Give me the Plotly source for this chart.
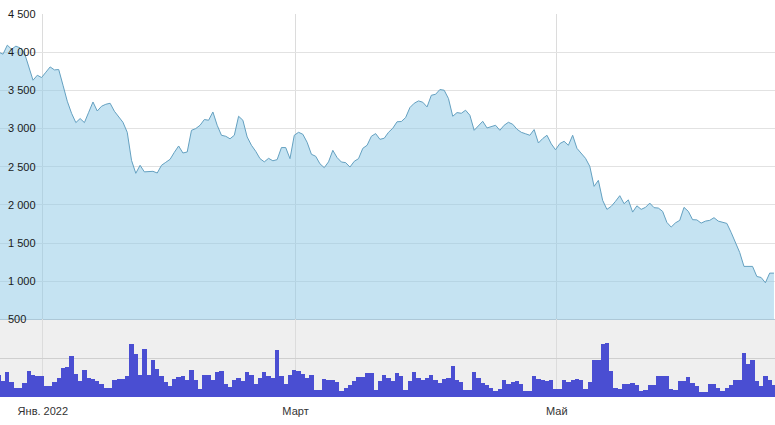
import pandas as pd
import plotly.graph_objects as go

# ---- data (daily, 21 Dec 2021 .. 20 Jun 2022) ----
start_date = "2021-12-21 17:00"
price = [
    4000, 3974, 4092, 4039, 4079, 4056, 3990, 3816, 3633, 3698, 3668,   # Dec 21 - Dec 31
    3738, 3807, 3768, 3773, 3567, 3358, 3200, 3078, 3131, 3078,         # Jan 1 - 10
    3213, 3348, 3230, 3292, 3318, 3331, 3227, 3161, 3082, 2951,         # Jan 11 - 20
    2584, 2414, 2519, 2433, 2440, 2440, 2418, 2519, 2558, 2597, 2689,   # Jan 21 - 31
    2772, 2680, 2693, 2977, 3000, 3043, 3118, 3109, 3217, 3043,         # Feb 1 - 10
    2912, 2899, 2866, 2912, 3161, 3109, 2890, 2781, 2702, 2606,         # Feb 11 - 20
    2564, 2610, 2578, 2593, 2751, 2751, 2606, 2912,                     # Feb 21 - 28
    2951, 2925, 2820, 2663, 2637, 2538, 2488, 2564, 2715, 2620,         # Mar 1 - 10
    2562, 2554, 2496, 2571, 2606, 2741, 2781, 2899, 2934, 2859,         # Mar 11 - 20
    2873, 2951, 3004, 3089, 3092, 3144, 3275, 3331, 3362, 3345, 3283,   # Mar 21 - 31
    3436, 3449, 3511, 3502, 3393, 3161, 3209, 3200, 3240, 3174,         # Apr 1 - 10
    2977, 3030, 3095, 3008, 3030, 3043, 2977, 3043, 3082, 3056,         # Apr 11 - 20
    2991, 2951, 2932, 2912, 2987, 2811, 2869, 2912, 2800, 2722,         # Apr 21 - 30
    2803, 2833, 2781, 2912, 2741, 2676, 2610, 2505, 2243, 2322,         # May 1 - 10
    2060, 1942, 1981, 2047, 2121, 2016, 2066, 1906, 1988, 1942,         # May 11 - 20
    1968, 2024, 1964, 1959, 1916, 1771, 1710, 1765, 1798, 1968, 1916,   # May 21 - 31
    1807, 1804, 1762, 1788, 1798, 1833, 1788, 1775, 1758, 1640,         # Jun 1 - 10
    1509, 1378, 1195, 1195, 1195, 1063, 1050, 981, 1107, 1107,          # Jun 11 - 20
]
volume = [
    10.9, 7.8, 12.5, 7.3, 4.3, 4.3, 6.9, 13.0, 11.3, 10.4, 10.8,
    5.6, 5.6, 7.3, 9.5, 14.7, 15.2, 20.8, 11.8, 7.8, 13.9,
    9.5, 9.2, 8.2, 6.6, 4.3, 4.3, 8.3, 9.0, 9.0, 10.4,
    27.2, 21.7, 11.3, 24.6, 11.3, 18.6, 14.2, 10.4, 7.3, 5.2, 9.2,
    9.9, 10.8, 8.3, 13.9, 8.7, 3.8, 11.3, 10.9, 8.7, 12.5,
    13.4, 6.6, 4.8, 8.7, 9.5, 8.2, 12.6, 10.9, 6.6, 9.5,
    12.5, 10.4, 9.5, 23.8, 10.4, 6.6, 10.9, 13.9,
    13.0, 11.8, 9.5, 10.9, 3.5, 3.5, 9.2, 8.3, 8.7, 7.3,
    3.0, 4.3, 6.1, 7.8, 10.0, 10.0, 12.1, 12.1, 3.5, 7.8,
    11.3, 9.5, 7.8, 12.1, 10.4, 3.5, 7.8, 12.5, 9.5, 8.7, 9.5,
    11.3, 8.7, 6.9, 9.0, 9.5, 15.6, 8.3, 7.3, 3.5, 3.5,
    12.5, 9.5, 6.9, 6.1, 4.3, 3.1, 3.8, 8.3, 6.6, 7.3,
    8.2, 6.6, 2.6, 2.6, 10.8, 9.0, 8.3, 8.2, 8.3, 3.8,
    3.8, 8.7, 7.3, 8.7, 9.0, 8.3, 3.8, 7.3, 19.1, 19.1,
    27.2, 27.4, 13.0, 4.3, 3.8, 6.6, 6.6, 6.9, 6.1, 2.6,
    3.5, 6.1, 6.1, 10.4, 10.8, 10.8, 3.8, 3.5, 7.8, 7.8, 9.9,
    6.9, 5.2, 2.1, 2.1, 6.6, 6.6, 4.3, 2.6, 4.3, 6.1,
    8.3, 8.3, 22.5, 16.8, 18.7, 7.8, 5.6, 10.8, 8.3, 6.1,
]
price_ticks = [500, 1000, 1500, 2000, 2500, 3000, 3500, 4000, 4500]
month_ticks = ["2022-01-01", "2022-03-01", "2022-05-01"]
month_labels = ["Янв. 2022", "Март", "Май"]

dates = pd.date_range(start_date, periods=len(price), freq="D")

fig = go.Figure()
fig.add_trace(go.Scatter(
    x=dates, y=price, mode="lines", fill="tozeroy",
    line=dict(color="rgb(100,160,192)", width=1),
    fillcolor="rgba(140,200,230,0.5)",
    xaxis="x", yaxis="y", hoverinfo="skip", showlegend=False,
))
fig.add_trace(go.Bar(
    x=dates, y=volume, marker=dict(color="#4a4ed2", line=dict(width=0)),
    xaxis="x", yaxis="y2", hoverinfo="skip", showlegend=False,
))

split = 0.2024
fig.update_layout(
    width=775, height=425,
    margin=dict(l=0, r=0, t=14, b=28),
    paper_bgcolor="white", plot_bgcolor="white",
    separators=", ",
    bargap=0,
    font=dict(family="Liberation Sans, Arial, sans-serif", size=11, color="#222"),
    xaxis=dict(
        type="date", anchor="y2",
        range=["2021-12-22 00:00", "2022-06-20 22:48"],
        tickvals=month_ticks, ticktext=month_labels,
        showgrid=True, gridcolor="#dcdcdc", gridwidth=1,
        ticks="", showline=False, zeroline=False,
        ticklabelstandoff=6,
        tickfont=dict(size=11, color="#333"),
    ),
    yaxis=dict(
        domain=[split, 1], range=[500, 4500],
        tickvals=price_ticks, tickformat=",d",
        showgrid=True, gridcolor="#e2e2e2", gridwidth=1,
        ticklabelposition="inside", ticklabeloverflow="allow",
        ticklabelstandoff=5,
        ticks="", showline=False, zeroline=False,
        tickfont=dict(size=11, color="#1a1a1a"),
    ),
    yaxis2=dict(
        domain=[0, split], range=[0, 40],
        tickvals=[20], showticklabels=False,
        showgrid=True, gridcolor="#cfcfcf", gridwidth=1,
        ticks="", showline=False, zeroline=False,
    ),
    shapes=[dict(
        type="rect", xref="paper", yref="paper", x0=0, x1=1, y0=0, y1=split,
        fillcolor="#efefef", line=dict(width=0), layer="below",
    ), dict(
        type="line", xref="paper", yref="paper", x0=0, x1=1, y0=split, y1=split,
        line=dict(color="#b8c8d2", width=1), layer="below",
    )],
)

fig.write_html("out.html")
